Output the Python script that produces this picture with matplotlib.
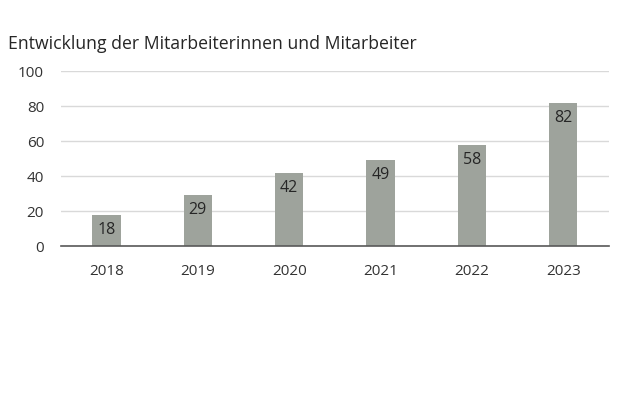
import matplotlib
matplotlib.use("Agg")
import matplotlib.pyplot as plt

years = ["2018", "2019", "2020", "2021", "2022", "2023"]
values = [18, 29, 42, 49, 58, 82]
yticks = [0, 20, 40, 60, 80, 100]
title = "Entwicklung der Mitarbeiterinnen und Mitarbeiter"

plt.rcParams['font.family'] = ['Open Sans', 'DejaVu Sans']

fig = plt.figure(figsize=(6.2, 4.13), dpi=100)
ax = fig.add_axes([0.098, 0.404, 0.884, 0.424])

x = range(len(years))
bars = ax.bar(x, values, width=0.31, color="#9ea39c", zorder=3)
for xi, v in zip(x, values):
    ax.annotate(str(v), (xi, v), xytext=(0, -5), textcoords="offset points",
                ha="center", va="top", fontsize=11.5, color="#262626", zorder=4)

ax.set_xlim(-0.5, len(years) - 0.5)
ax.set_ylim(0, 100)
ax.set_yticks(yticks)
ax.set_xticks(list(x))
ax.set_xticklabels(years)
ax.tick_params(axis="both", length=0, labelsize=11, labelcolor="#333333")
ax.tick_params(axis="y", pad=12)
ax.tick_params(axis="x", pad=13)
ax.yaxis.grid(True, color="#d9d9d9", linewidth=1, zorder=0)
for s in ["top", "right", "left"]:
    ax.spines[s].set_visible(False)
ax.spines["bottom"].set_color("#595959")
ax.spines["bottom"].set_linewidth(1.2)
ax.spines["bottom"].set_zorder(5)

fig.text(0.013, 0.893, title, fontsize=12.7, color="#262626", ha="left", va="center")

fig.savefig("out.png", dpi=100, facecolor="white")
